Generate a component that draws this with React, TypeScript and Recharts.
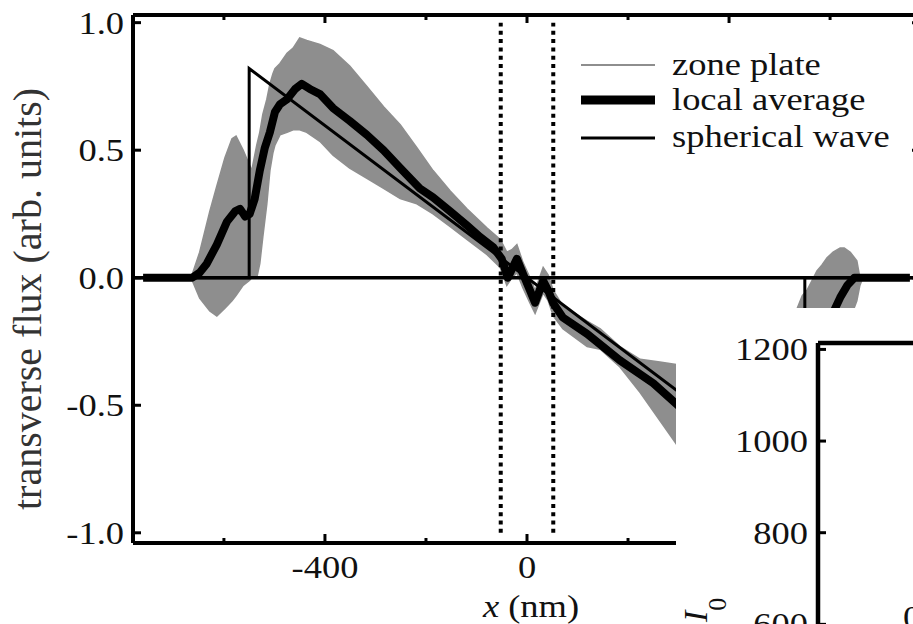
import React from 'react'
import { ComposedChart, Area, Line, XAxis, YAxis, ReferenceLine, Legend } from 'recharts'

const FONT = '"Liberation Serif", "Times New Roman", serif'
const INK = '#111'
const GRAY = '#8e8e8e'
const SX = 1.14 // the scan is a bit stretched sideways

// local average, x in nm
const avgX = [-760, -663, -648, -634, -614, -594, -578, -568, -558, -549, -539, -529, -519, -509, -499, -489, -475, -459, -446, -430, -410, -384, -351, -317, -284, -251, -212, -186, -152, -119, -93, -67, -50, -38, -20, -8, 6, 16, 32, 42, 52, 71, 119, 184, 250, 303, 350, 384, 420, 446, 475, 489, 499, 509, 519, 529, 539, 549, 558, 568, 578, 594, 610, 620, 634, 648, 758]
const avgY = [0, 0, 0.02, 0.055, 0.13, 0.22, 0.26, 0.27, 0.24, 0.25, 0.31, 0.42, 0.51, 0.57, 0.65, 0.68, 0.7, 0.74, 0.76, 0.74, 0.72, 0.665, 0.615, 0.56, 0.5, 0.43, 0.35, 0.315, 0.26, 0.205, 0.16, 0.12, 0.074, 0, 0.074, 0.016, -0.05, -0.098, -0.012, -0.05, -0.1, -0.156, -0.22, -0.324, -0.414, -0.508, -0.6, -0.665, -0.73, -0.76, -0.7, -0.68, -0.65, -0.57, -0.51, -0.42, -0.31, -0.25, -0.24, -0.27, -0.26, -0.22, -0.12, -0.078, -0.03, 0, 0]

// zone plate: envelope of the fast oscillation
const bandX = [-665, -648, -628, -614, -598, -584, -576, -562, -549, -545, -535, -529, -523, -515, -509, -503, -499, -489, -475, -463, -450, -436, -410, -384, -351, -317, -284, -251, -218, -186, -152, -119, -79, -53, -40, -30, -20, -8, 6, 16, 32, 42, 52, 71, 119, 145, 184, 224, 263, 295, 330, 384, 420, 450, 475, 499, 509, 515, 523, 535, 545, 554, 562, 574, 584, 594, 606, 620, 628, 640, 653, 659, 665]
const bandLo = [0, -0.08, -0.13, -0.15, -0.12, -0.09, -0.07, -0.03, -0.01, 0, 0, 0.055, 0.16, 0.29, 0.42, 0.49, 0.52, 0.56, 0.57, 0.58, 0.58, 0.57, 0.535, 0.48, 0.43, 0.39, 0.35, 0.31, 0.29, 0.25, 0.2, 0.15, 0.09, 0.04, -0.03, 0, 0.02, -0.04, -0.1, -0.14, -0.06, -0.09, -0.15, -0.2, -0.27, -0.28, -0.35, -0.45, -0.56, -0.65, -0.76, -0.88, -0.92, -0.94, -0.89, -0.82, -0.76, -0.7, -0.64, -0.55, -0.45, -0.46, -0.5, -0.55, -0.545, -0.49, -0.41, -0.31, -0.26, -0.16, -0.09, -0.03, 0]
const bandHi = [0, 0.1, 0.26, 0.36, 0.47, 0.545, 0.555, 0.5, 0.44, 0.42, 0.52, 0.57, 0.64, 0.7, 0.76, 0.8, 0.82, 0.84, 0.88, 0.9, 0.94, 0.93, 0.915, 0.89, 0.83, 0.75, 0.67, 0.6, 0.51, 0.42, 0.34, 0.27, 0.195, 0.15, 0.1, 0.11, 0.13, 0.06, 0, -0.05, 0.04, 0.01, -0.05, -0.11, -0.17, -0.2, -0.27, -0.32, -0.33, -0.34, -0.4, -0.47, -0.53, -0.58, -0.57, -0.52, -0.42, -0.29, -0.16, -0.12, -0.07, -0.05, -0.02, 0.027, 0.05, 0.078, 0.1, 0.117, 0.117, 0.1, 0.066, 0, 0]

// spherical wave
const sphX = [-780, -550, -550, 550, 550, 780]
const sphY = [0, 0, 0.82, -0.82, 0, 0]

const xTicks = [-600, -400, -200, 0, 200, 400, 600]
const xLabeled = [-400, 0, 400]
const yTicks = [-1, -0.5, 0, 0.5, 1]
const slits = [-52, 52]
const names = ['zone plate', 'local average', 'spherical wave']

// inset (I0 panel), only its top-left corner is in frame
const insetYTicks = [600, 800, 1000, 1200]
const insetXTicks = [5]

const avgData = avgX.map((x, i) => ({ x, y: avgY[i] }))
const bandData = bandX.map((x, i) => ({ x, band: [bandLo[i], bandHi[i]] }))
const sphData = sphX.map((x, i) => ({ x, y: sphY[i] }))

const Txt = ({ x, y, anchor = 'start', size = 32, children }: any) => (
  <text transform={`translate(${x},${y}) scale(${SX},1)`} textAnchor={anchor} fontFamily={FONT} fontSize={size} fill={INK}>
    {children}
  </text>
)

const BottomTick = ({ x, y, payload }: any) => {
  const major = xLabeled.includes(payload.value)
  return (
    <g>
      <line x1={x} x2={x} y1={y} y2={y - (major ? 9 : 5)} stroke="#000" strokeWidth={3} />
      {major && <Txt x={x} y={y + 35} anchor="middle">{String(payload.value)}</Txt>}
    </g>
  )
}

const TopTick = ({ x, y, payload }: any) => {
  const major = xLabeled.includes(payload.value)
  return <line x1={x} x2={x} y1={y} y2={y + (major ? 8 : 5)} stroke="#000" strokeWidth={3} />
}

const LeftTick = ({ x, y, payload }: any) => (
  <g>
    <line x1={x} x2={x + 8} y1={y} y2={y} stroke="#000" strokeWidth={3} />
    <Txt x={x - 9} y={y + 11} anchor="end">{payload.value.toFixed(1)}</Txt>
  </g>
)

const RightTick = ({ x, y }: any) => <line x1={x} x2={x - 9} y1={y} y2={y} stroke="#000" strokeWidth={3} />

const InsetLeftTick = ({ x, y, payload }: any) => (
  <g>
    <line x1={x} x2={x + 8} y1={y} y2={y} stroke="#000" strokeWidth={3} />
    <Txt x={x - 10} y={y + 11} anchor="end">{String(payload.value)}</Txt>
  </g>
)

const InsetTopTick = ({ x, y }: any) => <line x1={x} x2={x} y1={y} y2={y + 8} stroke="#000" strokeWidth={3} />

const legendLook = [
  { stroke: GRAY, w: 2 },
  { stroke: '#000', w: 9 },
  { stroke: '#000', w: 3 },
]
const legendLineY = [25, 60, 98]
const legendTextY = [35, 70, 107]

const LegendBox = ({ payload }: any) => {
  const items = [...(payload || [])].sort((a: any, b: any) => names.indexOf(a.value) - names.indexOf(b.value))
  return (
    <svg width={340} height={120}>
      {items.map((p: any, i: number) => (
        <g key={p.value}>
          <line x1={11} x2={85} y1={legendLineY[i]} y2={legendLineY[i]} stroke={legendLook[i].stroke} strokeWidth={legendLook[i].w} />
          <Txt x={102} y={legendTextY[i]}>{p.value}</Txt>
        </g>
      ))}
    </svg>
  )
}

const axisLine = { stroke: '#000', strokeWidth: 4 }
const insetAxisLine = { stroke: '#000', strokeWidth: 4.5 }

export default function App() {
  return (
    <div style={{ position: 'fixed', left: 0, top: 0, width: 913, height: 624, overflow: 'hidden', background: '#fff' }}>
      <ComposedChart width={940} height={624} margin={{ top: 0, right: 0, bottom: 0, left: 0 }}>
        <XAxis xAxisId="b" type="number" dataKey="x" domain={[-780, 780]} allowDataOverflow ticks={xTicks} interval={0}
          height={81} tickSize={0} tickMargin={0} tickLine={false} axisLine={axisLine} tick={<BottomTick />}
          label={{ content: () => (
            <text transform={`translate(531,617) scale(${SX},1)`} textAnchor="middle" fontFamily={FONT} fontSize={32} fill={INK}>
              <tspan fontStyle="italic">x</tspan> (nm)
            </text>
          ) }} />
        <XAxis xAxisId="t" orientation="top" type="number" dataKey="x" domain={[-780, 780]} allowDataOverflow ticks={xTicks} interval={0}
          height={15} tickSize={0} tickMargin={0} tickLine={false} axisLine={axisLine} tick={<TopTick />} />
        <YAxis yAxisId="l" type="number" domain={[-1.04, 1.03]} allowDataOverflow ticks={yTicks} interval={0}
          width={133} tickSize={0} tickMargin={0} tickLine={false} axisLine={axisLine} tick={<LeftTick />}
          label={{ content: () => (
            <text transform="translate(41,299) rotate(-90)" textAnchor="middle" fontFamily={FONT} fontSize={40} fill="#333">
              transverse flux (arb. units)
            </text>
          ) }} />
        <YAxis yAxisId="r" orientation="right" type="number" domain={[-1.04, 1.03]} allowDataOverflow ticks={yTicks} interval={0}
          width={19} tickSize={0} tickMargin={0} tickLine={false} axisLine={axisLine} tick={<RightTick />} />

        <Area xAxisId="b" yAxisId="l" data={bandData} dataKey="band" name="zone plate" type="linear"
          fill={GRAY} fillOpacity={1} stroke={GRAY} strokeWidth={1.5} isAnimationActive={false} dot={false} activeDot={false} />
        <ReferenceLine xAxisId="b" yAxisId="l" y={0} stroke="#000" strokeWidth={3.5} />
        <Line xAxisId="b" yAxisId="l" data={sphData} dataKey="y" name="spherical wave" type="linear"
          stroke="#000" strokeWidth={3} dot={false} activeDot={false} isAnimationActive={false} />
        <Line xAxisId="b" yAxisId="l" data={avgData} dataKey="y" name="local average" type="linear"
          stroke="#000" strokeWidth={8} strokeLinejoin="round" dot={false} activeDot={false} isAnimationActive={false} />
        {slits.map(s => (
          <ReferenceLine key={s} xAxisId="b" yAxisId="l" segment={[{ x: s, y: -1 }, { x: s, y: 1 }]}
            stroke="#000" strokeWidth={4} strokeDasharray="4 4.3" />
        ))}
        <Legend content={<LegendBox />} layout="horizontal" verticalAlign="middle" align="center"
          wrapperStyle={{ left: 570, top: 40, width: 340, height: 120 }} />
      </ComposedChart>

      {/* inset panel, drawn over the lower right of the main plot */}
      <div style={{ position: 'absolute', left: 676, top: 308, width: 300, height: 420, background: '#fff' }}>
        <ComposedChart width={300} height={418} margin={{ top: 0, right: 0, bottom: 10, left: 0 }}>
          <XAxis xAxisId="t" orientation="top" type="number" domain={[0, 9]} allowDataOverflow ticks={insetXTicks} interval={0}
            height={35} tickSize={0} tickMargin={0} tickLine={false} axisLine={insetAxisLine} tick={<InsetTopTick />} />
          <YAxis type="number" domain={[400, 1214]} allowDataOverflow ticks={insetYTicks} interval={0}
            width={142} tickSize={0} tickMargin={0} tickLine={false} axisLine={insetAxisLine} tick={<InsetLeftTick />} />
        </ComposedChart>
        <svg style={{ position: 'absolute', left: 0, top: 0 }} width={300} height={340}>
          <text transform="translate(31,314) rotate(-90)" fontFamily={FONT} fill={INK}>
            <tspan fontSize={34} fontStyle="italic">I</tspan>
            <tspan fontSize={26} dy={19}>0</tspan>
          </text>
          <Txt x={227} y={320}>0</Txt>
        </svg>
      </div>
    </div>
  )
}
